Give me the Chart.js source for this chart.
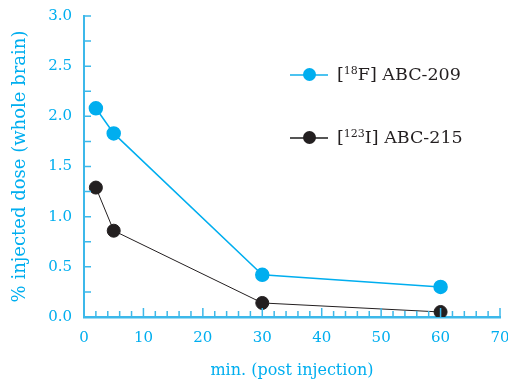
<!DOCTYPE html>
<html lang="en">
<head>
    <meta charset="UTF-8">
    <title>Brain uptake</title>
    <script src="https://cdn.jsdelivr.net/npm/chart.js"></script>
    <style>
        body { margin: 0; background: #fff; }
        #wrap { position: relative; width: 508px; height: 384px; }
        #legenda { position: absolute; left: 290px; top: 60px; font-family: "DejaVu Serif", serif; font-size: 17.5px; color: #231f20; }
        .item { position: relative; height: 28px; line-height: 28px; padding-left: 47px; margin-bottom: 35px; }
        .item .linha { position: absolute; left: 0; top: 14px; width: 38px; height: 1.5px; }
        .item .ponto { position: absolute; left: 13px; top: 8px; width: 13px; height: 13px; border-radius: 50%; }
        sup { font-size: 11px; vertical-align: 6px; line-height: 0; }
    </style>
</head>
<body>
<div id="wrap">
    <canvas id="grafico" width="508" height="384"></canvas>
    <div id="legenda">
        <div class="item"><span class="linha" style="background:#4cc3f0"></span><span class="ponto" style="background:#00aeef"></span>[<sup>18</sup>F] ABC-209</div>
        <div class="item"><span class="linha" style="background:#555"></span><span class="ponto" style="background:#231f20"></span>[<sup>123</sup>I] ABC-215</div>
    </div>
</div>
<script>
    var minutos = [2, 5, 30, 60];
    var abc209 = [2.08, 1.83, 0.42, 0.30];
    var abc215 = [1.29, 0.86, 0.14, 0.05];

    var azul = '#00aeef';
    var eixo = '#3cb8ea';
    var preto = '#231f20';

    // ticks pequenos para dentro, como no original
    var ticksDentro = {
        id: 'ticksDentro',
        afterDraw: function (chart) {
            var ctx = chart.ctx;
            var x = chart.scales.x, y = chart.scales.y;
            ctx.save();
            ctx.strokeStyle = eixo;
            ctx.lineWidth = 1.5;
            ctx.beginPath();
            for (var v = 2; v <= 70; v += 2) {
                var px = x.getPixelForValue(v);
                var len = v % 10 === 0 ? 9 : 6;
                ctx.moveTo(px, y.bottom);
                ctx.lineTo(px, y.bottom - len);
            }
            for (var w = 0.25; w <= 3.0001; w += 0.25) {
                var py = y.getPixelForValue(w);
                ctx.moveTo(x.left, py);
                ctx.lineTo(x.left + 7, py);
            }
            ctx.stroke();
            ctx.restore();
        }
    };

    new Chart(document.getElementById('grafico'), {
        type: 'line',
        data: {
            datasets: [{
                label: '[18F] ABC-209',
                data: minutos.map(function (m, i) { return { x: m, y: abc209[i] }; }),
                borderColor: azul,
                backgroundColor: azul,
                borderWidth: 1.5,
                pointRadius: 6.5,
                pointHoverRadius: 6.5
            }, {
                label: '[123I] ABC-215',
                data: minutos.map(function (m, i) { return { x: m, y: abc215[i] }; }),
                borderColor: preto,
                backgroundColor: preto,
                borderWidth: 1,
                pointRadius: 6.5,
                pointHoverRadius: 6.5
            }]
        },
        options: {
            responsive: false,
            animation: false,
            layout: { padding: { top: 16, right: 8, left: 6 } },
            plugins: { legend: { display: false }, tooltip: { enabled: false } },
            scales: {
                x: {
                    type: 'linear',
                    min: 0, max: 70,
                    ticks: { stepSize: 10, color: azul, padding: 12, font: { family: 'DejaVu Serif', size: 15 } },
                    grid: { display: false, drawTicks: false },
                    border: { color: eixo, width: 2.5 },
                    title: { display: true, text: 'min. (post injection)', color: azul, padding: { top: 20 }, font: { family: 'DejaVu Serif', size: 16 } },
                    afterFit: function (s) { s.height = 67; s.paddingLeft = 0; s.paddingRight = 0; }
                },
                y: {
                    min: 0, max: 3,
                    ticks: { stepSize: 0.5, color: azul, padding: 12, font: { family: 'DejaVu Serif', size: 15 },
                        callback: function (v) { return v.toFixed(1); } },
                    grid: { display: false, drawTicks: false },
                    border: { color: eixo, width: 2 },
                    title: { display: true, text: '% injected dose (whole brain)', color: azul, padding: 4, font: { family: 'DejaVu Serif', size: 18 } },
                    afterFit: function (s) { s.width = 78; s.paddingTop = 0; s.paddingBottom = 0; }
                }
            }
        },
        plugins: [ticksDentro]
    });
</script>
</body>
</html>
